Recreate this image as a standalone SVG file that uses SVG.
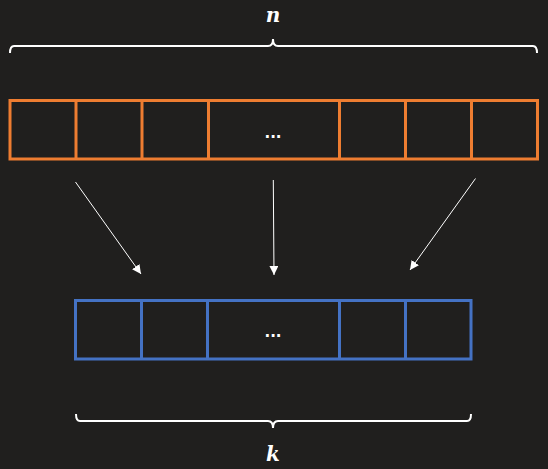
<svg xmlns="http://www.w3.org/2000/svg" width="548" height="469" viewBox="0 0 548 469">
<style>
.bg{fill:#201f1e}
.org{fill:none;stroke:#ee7d31;stroke-width:3}
.blu{fill:none;stroke:#4472c4;stroke-width:3}
.brace{fill:none;stroke:#ffffff;stroke-width:2}
.conn{stroke:#ffffff;stroke-width:1;fill:none}
.dots{font-family:"DejaVu Sans",sans-serif;font-size:15px;font-weight:bold;fill:#ffffff;text-anchor:middle}
.math{font-family:"DejaVu Serif","Liberation Serif",serif;font-size:20px;font-style:italic;font-weight:bold;fill:#ffffff;text-anchor:middle}
</style>
<defs>
<marker id="ah" viewBox="0 0 10 10" refX="10" refY="5" markerWidth="9" markerHeight="9" markerUnits="userSpaceOnUse" orient="auto">
<path d="M0,0 L10,5 L0,10 Z" fill="#ffffff"/>
</marker>
</defs>
<rect class="bg" x="0" y="0" width="548" height="469"/>
<g id="label-n">
<text class="math" x="273" y="22">n</text>
</g>
<g id="brace-n">
<path class="brace" d="M10,53 Q10,46 14,46 L268,46 Q273,46 273,39 Q273,46 278,46 L533,46 Q537,46 537,53"/>
</g>
<g id="array-n">
<rect class="org" x="10" y="100.5" width="527.5" height="58.5"/>
<line class="org" x1="76" y1="100" x2="76" y2="159"/>
<line class="org" x1="142" y1="100" x2="142" y2="159"/>
<line class="org" x1="208.5" y1="100" x2="208.5" y2="159"/>
<line class="org" x1="339.5" y1="100" x2="339.5" y2="159"/>
<line class="org" x1="405.5" y1="100" x2="405.5" y2="159"/>
<line class="org" x1="471.5" y1="100" x2="471.5" y2="159"/>
<text class="dots" x="273" y="138">...</text>
</g>
<g id="connectors">
<line class="conn" x1="75.5" y1="182" x2="141" y2="274" marker-end="url(#ah)"/>
<line class="conn" x1="273.3" y1="180" x2="274" y2="275" marker-end="url(#ah)"/>
<line class="conn" x1="475.5" y1="178.5" x2="410" y2="270" marker-end="url(#ah)"/>
</g>
<g id="array-k">
<rect class="blu" x="75.5" y="300.5" width="395.5" height="58.5"/>
<line class="blu" x1="141.5" y1="300" x2="141.5" y2="359"/>
<line class="blu" x1="207.5" y1="300" x2="207.5" y2="359"/>
<line class="blu" x1="339.5" y1="300" x2="339.5" y2="359"/>
<line class="blu" x1="405.5" y1="300" x2="405.5" y2="359"/>
<text class="dots" x="273" y="337">...</text>
</g>
<g id="brace-k">
<path class="brace" d="M76,414 Q76,421 80,421 L268,421 Q273,421 273,428 Q273,421 278,421 L467,421 Q471,421 471,414"/>
</g>
<g id="label-k">
<text class="math" x="273" y="461">k</text>
</g>
</svg>
